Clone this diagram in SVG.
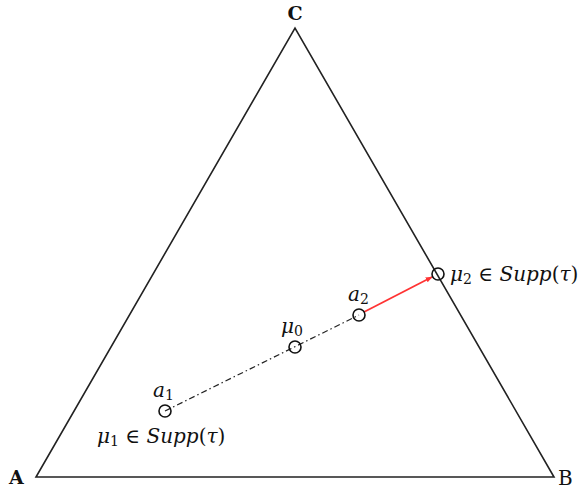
<svg xmlns="http://www.w3.org/2000/svg" width="584" height="491" viewBox="0 0 584 491">
<defs>
<style>
.edge{fill:none;stroke:#222;stroke-width:1.6}
.pt{fill:none;stroke:#111;stroke-width:1.6}
.m{font-family:"DejaVu Serif",serif;font-size:20px;fill:#111}
.i{font-style:italic}
.s{font-size:14px;font-style:normal}
.lab{font-family:"DejaVu Serif",serif;font-size:19px;font-weight:bold;fill:#111}
.r{font-family:"DejaVu Serif",serif;font-size:20px;fill:#111}
</style>
<marker id="ah" viewBox="0 0 10 10" refX="9" refY="5" markerWidth="7" markerHeight="7" orient="auto" markerUnits="userSpaceOnUse">
<path d="M0,1 L10,5 L0,9 z" fill="#ff3333"/>
</marker>
</defs>
<rect width="584" height="491" fill="#fff"/>
<g id="triangle">
<path class="edge" d="M36,477 L554,477 L295,28 Z"/>
</g>
<g id="A"><text class="lab" x="9" y="484">A</text></g>
<g id="B"><text class="r" x="558" y="485">B</text></g>
<g id="C"><text class="lab" x="295" y="20" text-anchor="middle">C</text></g>
<g id="connectors">
<line x1="165" y1="411" x2="359" y2="315" stroke="#222" stroke-width="1.2" stroke-dasharray="6,3,1.5,3"/>
<line x1="364" y1="312" x2="432" y2="277" stroke="#ff3333" stroke-width="1.8" marker-end="url(#ah)"/>
</g>
<g id="a1">
<circle class="pt" cx="165" cy="411" r="6"/>
<text class="m" x="153" y="397"><tspan class="i">a</tspan><tspan class="s" dy="3">1</tspan></text>
<text class="m" x="97" y="443"><tspan class="i">μ</tspan><tspan class="s" dy="3">1</tspan><tspan dy="-3"> ∈ </tspan><tspan class="i">Supp</tspan>(<tspan class="i">τ</tspan>)</text>
</g>
<g id="mu0">
<circle class="pt" cx="295" cy="347" r="6"/>
<text class="m" x="281" y="333"><tspan class="i">μ</tspan><tspan class="s" dy="3">0</tspan></text>
</g>
<g id="a2">
<circle class="pt" cx="359" cy="315" r="6"/>
<text class="m" x="348" y="301"><tspan class="i">a</tspan><tspan class="s" dy="3">2</tspan></text>
</g>
<g id="mu2">
<circle class="pt" cx="438" cy="274" r="6"/>
<text class="m" x="450" y="281"><tspan class="i">μ</tspan><tspan class="s" dy="3">2</tspan><tspan dy="-3"> ∈ </tspan><tspan class="i">Supp</tspan>(<tspan class="i">τ</tspan>)</text>
</g>
</svg>
